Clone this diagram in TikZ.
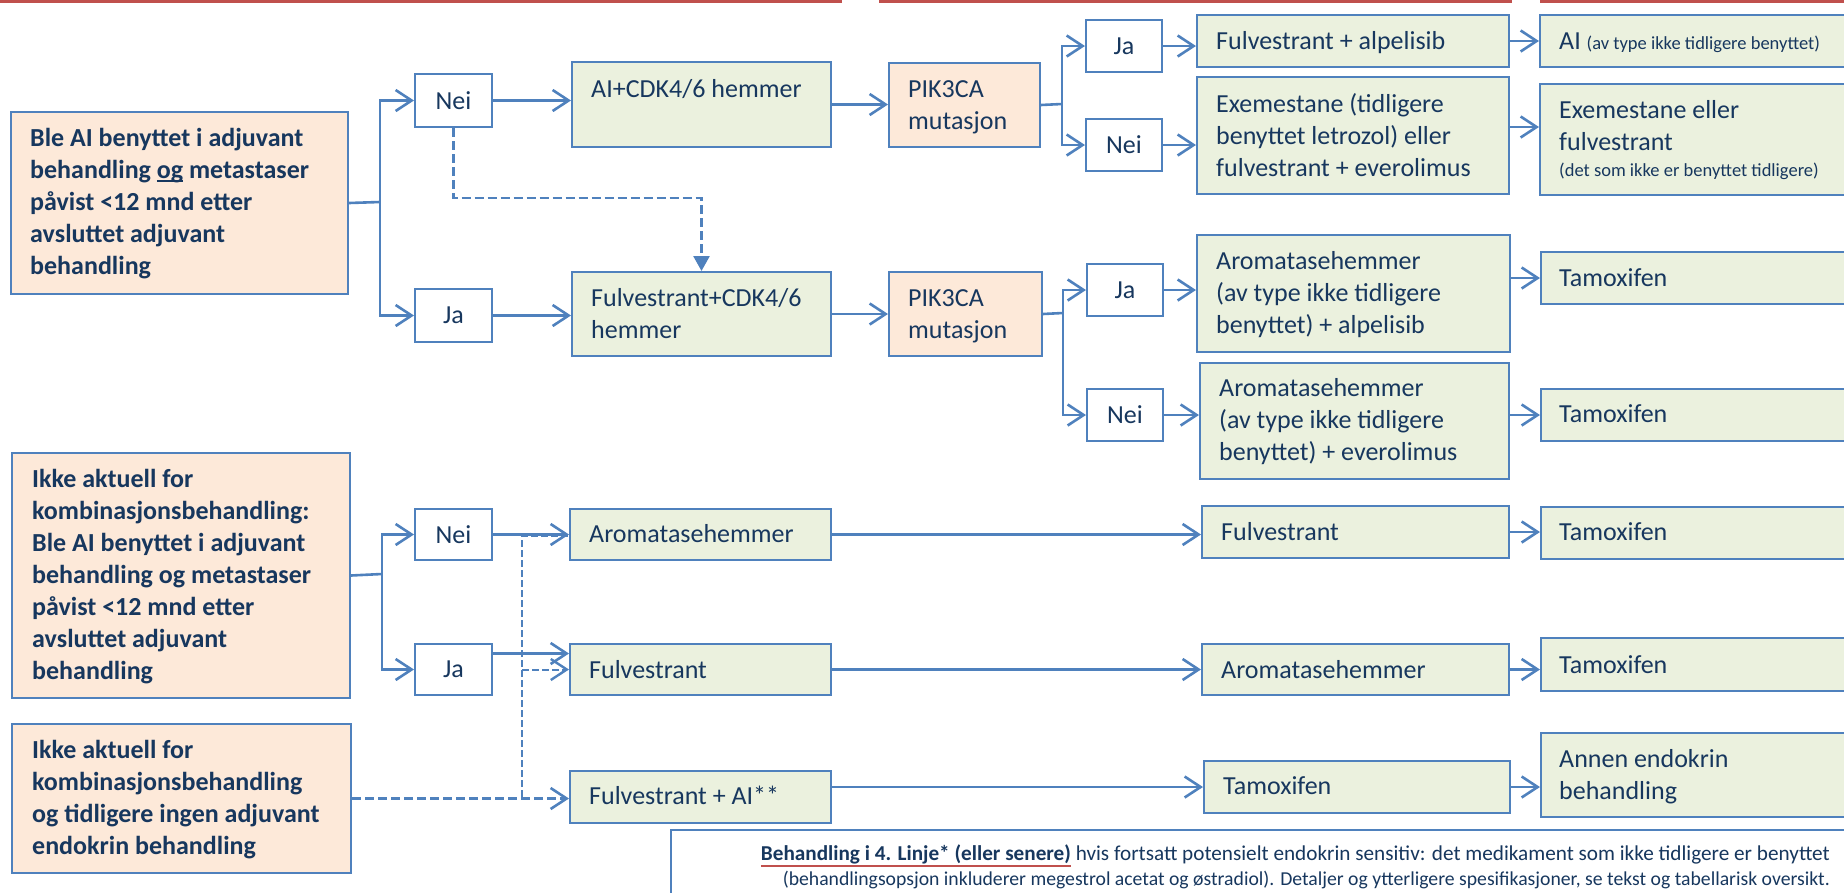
\documentclass[tikz,border=0pt]{standalone}
\usepackage{fontspec}
\setmainfont{Carlito}
\usetikzlibrary{arrows.meta,calc}
\definecolor{bord}{HTML}{4F81BD}
\definecolor{gfill}{HTML}{EBF1DE}
\definecolor{pfill}{HTML}{FDE9D9}
\definecolor{txtc}{HTML}{17375E}
\definecolor{redl}{HTML}{C0504D}
\newcommand{\redul}[1]{\setbox0\hbox{#1}\rlap{\textcolor{redl}{\rule[-7pt]{\wd0}{2.5pt}}}\box0\relax}
\newcommand{\ogul}[1]{\setbox0\hbox{#1}\rlap{\rule[-4pt]{\wd0}{2pt}}\box0\relax}
\newcommand{\mkbox}[6]{\node[#1, minimum width={(#5-#3)*1pt}, minimum height={(#6-#4)*1pt}] (#2) at (#3,#4) {};}
\newcommand{\mktxt}[5]{\node[#1] (#2) at (#3,#4) {\parbox[t]{600pt}{\raggedright #5}};}
\newcommand{\mkdec}[6]{\node[wbox, minimum width={(#4-#2)*1pt}, minimum height={(#5-#3)*1pt}] (#1) at (#2,#3) {#6};}
\tikzset{
  box/.style={draw=bord, line width=2pt, inner sep=0pt, anchor=north west},
  gbox/.style={box, fill=gfill},
  pbox/.style={box, fill=pfill},
  wbox/.style={box, fill=white, text=txtc, font=\fontsize{26}{32}\selectfont},
  txt/.style={anchor=base west, inner sep=0pt, text=txtc, font=\fontsize{26}{32}\selectfont},
  btxt/.style={txt, font=\fontsize{26}{32}\selectfont\bfseries},
  notetxt/.style={anchor=base east, inner sep=0pt, text=txtc, font=\fontsize{19.7}{25}\selectfont},
  conn/.style={draw=bord, line width=2.6pt},
  arr/.style={conn, -{Straight Barb[length=16pt,width=21pt]}},
  dconn/.style={conn, dash pattern=on 9pt off 4pt},
  darr/.style={arr, dash pattern=on 9pt off 4pt},
  dthin/.style={conn, line width=2pt, dash pattern=on 7pt off 3pt},
  dthinarr/.style={dthin, -{Straight Barb[length=16pt,width=21pt,line width=2.4pt]}},
  tri/.style={dconn, -{Triangle[length=15pt,width=16pt]}}
}
\begin{document}
\begin{tikzpicture}[x=1pt,y=-1pt]
\path[use as bounding box] (0,0) rectangle (1844,892);
\clip (0,0) rectangle (1844,892);
% red header lines
\fill[redl] (0,0) rectangle (842,3);
\fill[redl] (879,0) rectangle (1512,3);
\fill[redl] (1540,0) rectangle (1844,3);
% boxes
\mkbox{pbox}{L1}{10}{111}{347}{293}
\mkbox{pbox}{L2}{11}{452}{349}{697}
\mkbox{pbox}{L3}{11}{723}{350}{872}
\mkbox{gbox}{AICDK}{571}{61}{830}{146}
\mkbox{gbox}{FCDK}{571}{271}{830}{355}
\mkbox{gbox}{AR2}{569}{508}{830}{559}
\mkbox{gbox}{FU2}{569}{643}{830}{694}
\mkbox{gbox}{FAI2}{569}{770}{830}{822}
\mkbox{pbox}{PIK1}{888}{62}{1039}{146}
\mkbox{pbox}{PIK2}{888}{271}{1041}{355}
\mkbox{gbox}{FA}{1196}{14}{1508}{66}
\mkbox{gbox}{EX}{1196}{76}{1508}{193}
\mkbox{gbox}{ARA}{1196}{234}{1509}{351}
\mkbox{gbox}{ARE}{1199}{362}{1508}{478}
\mkbox{gbox}{F4}{1201}{505}{1508}{557}
\mkbox{gbox}{A4}{1201}{643}{1508}{694}
\mkbox{gbox}{T4}{1203}{760}{1509}{812}
\mkbox{gbox}{AI5}{1539}{14}{1870}{66}
\mkbox{gbox}{EE5}{1539}{83}{1870}{194}
\mkbox{gbox}{T5a}{1540}{251}{1870}{303}
\mkbox{gbox}{T5b}{1540}{388}{1870}{440}
\mkbox{gbox}{T5c}{1540}{506}{1870}{558}
\mkbox{gbox}{T5d}{1540}{637}{1870}{690}
\mkbox{gbox}{AN5}{1540}{732}{1870}{816}
\node[draw=bord, line width=1.8pt, fill=white, inner sep=0pt, anchor=north west, minimum width=1250pt, minimum height=100pt] (note) at (670,829) {};
% decision boxes
\mkdec{N1}{414}{73}{491}{126}{Nei}
\mkdec{J1}{414}{288}{491}{341}{Ja}
\mkdec{N3}{414}{508}{491}{559}{Nei}
\mkdec{J3}{414}{643}{491}{694}{Ja}
\mkdec{Pj1}{1085}{19}{1161}{71}{Ja}
\mkdec{Pn1}{1085}{118}{1161}{170}{Nei}
\mkdec{Pj2}{1086}{263}{1162}{315}{Ja}
\mkdec{Pn2}{1086}{388}{1162}{440}{Nei}
% texts
\mktxt{btxt}{tL1}{30}{146}{Ble AI benyttet i adjuvant\\behandling \ogul{og} metastaser\\påvist <12 mnd etter\\avsluttet adjuvant\\behandling}
\mktxt{btxt}{tL2}{32}{487}{Ikke aktuell for\\kombinasjonsbehandling:\\Ble AI benyttet i adjuvant\\behandling og metastaser\\påvist <12 mnd etter\\avsluttet adjuvant\\behandling}
\mktxt{btxt}{tL3}{32}{758}{Ikke aktuell for\\kombinasjonsbehandling\\og tidligere ingen adjuvant\\endokrin behandling}
\mktxt{txt}{tAICDK}{591}{97}{AI+CDK4/6 hemmer}
\mktxt{txt}{tFCDK}{591}{306}{Fulvestrant+CDK4/6\\hemmer}
\mktxt{txt}{tPIK1}{908}{97}{PIK3CA\\mutasjon}
\mktxt{txt}{tPIK2}{908}{306}{PIK3CA\\mutasjon}
\mktxt{txt}{tAR2}{589}{542}{Aromatasehemmer}
\mktxt{txt}{tFU2}{589}{678}{Fulvestrant}
\mktxt{txt}{tFAI2}{589}{804}{Fulvestrant + AI**}
\mktxt{txt}{tFA}{1216}{49}{Fulvestrant + alpelisib}
\mktxt{txt}{tEX}{1216}{112}{Exemestane (tidligere\\benyttet letrozol) eller\\fulvestrant + everolimus}
\mktxt{txt}{tARA}{1216}{269}{Aromatasehemmer\\(av type ikke tidligere\\benyttet) + alpelisib}
\mktxt{txt}{tARE}{1219}{396}{Aromatasehemmer\\(av type ikke tidligere\\benyttet) + everolimus}
\mktxt{txt}{tF4}{1221}{540}{Fulvestrant}
\mktxt{txt}{tA4}{1221}{678}{Aromatasehemmer}
\mktxt{txt}{tT4}{1223}{794}{Tamoxifen}
\mktxt{txt}{tAI5}{1559}{49}{AI {\fontsize{18.5}{22}\selectfont(av type ikke tidligere benyttet)}}
\mktxt{txt}{tEE5}{1559}{118}{Exemestane eller\\fulvestrant\par{\fontsize{18.5}{26}\selectfont(det som ikke er benyttet tidligere)\par}}
\mktxt{txt}{tT5a}{1559}{286}{Tamoxifen}
\mktxt{txt}{tT5b}{1559}{422}{Tamoxifen}
\mktxt{txt}{tT5c}{1559}{540}{Tamoxifen}
\mktxt{txt}{tT5d}{1559}{673}{Tamoxifen}
\mktxt{txt}{tAN5}{1559}{767}{Annen endokrin\\behandling}
\node[notetxt, font=\fontsize{21.2}{25}\selectfont] (n1) at (1830,860) {\redul{\textbf{Behandling i 4. Linje* (eller senere)}} hvis fortsatt potensielt endokrin sensitiv: det medikament som ikke tidligere er benyttet};
\node[notetxt] (n2) at (1830,885) {(behandlingsopsjon inkluderer megestrol acetat og østradiol). Detaljer og ytterligere spesifikasjoner, se tekst og tabellarisk oversikt.};
% connectors top section
\coordinate (b1) at (380,202);
\draw[conn] (L1.east) -- (b1);
\draw[arr] (b1) |- (N1.west);
\draw[arr] (b1) |- (J1.west);
\draw[arr] (N1.east) -- (N1.east -| AICDK.west);
\draw[arr] (J1.east) -- (J1.east -| FCDK.west);
\coordinate (dk) at (453,198);
\draw[tri] (N1.south) -- (N1.south |- dk) -| (FCDK.north);
\draw[arr] (AICDK.east) -- (AICDK.east -| PIK1.west);
\draw[arr] (FCDK.east) -- (FCDK.east -| PIK2.west);
\coordinate (b2) at (1062,104);
\draw[conn] (PIK1.east) -- (b2);
\draw[arr] (b2) |- (Pj1.west);
\draw[arr] (b2) |- (Pn1.west);
\coordinate (b3) at (1063,313);
\draw[conn] (PIK2.east) -- (b3);
\draw[arr] (b3) |- (Pj2.west);
\draw[arr] (b3) |- (Pn2.west);
\draw[arr] (Pj1.east) -- (Pj1.east -| FA.west);
\draw[arr] (Pn1.east) -- (Pn1.east -| EX.west);
\draw[arr] (Pj2.east) -- (Pj2.east -| ARA.west);
\draw[arr] (Pn2.east) -- (Pn2.east -| ARE.west);
\draw[arr] (FA.east) -- (FA.east -| AI5.west);
\draw[arr] ([yshift=8.5pt]EX.east) -- ([yshift=8.5pt]EX.east -| EE5.west);
\draw[arr] (T5a.west -| ARA.east) -- (T5a.west);
\draw[arr] (T5b.west -| ARE.east) -- (T5b.west);
% connectors bottom section
\coordinate (b4) at (382,574);
\draw[conn] (L2.east) -- (b4);
\draw[arr] (b4) |- (N3.west);
\draw[arr] (b4) |- (J3.west);
\draw[arr] (N3.east) -- (N3.east -| AR2.west);
\draw[arr] ([yshift=16pt]J3.east) -- ([yshift=16pt]J3.east -| FU2.west);
\coordinate (dv) at (522,797);
\coordinate (dtop) at (522,536);
\draw[darr] (L3.east) -- (L3.east -| FAI2.west);
\draw[dthin] (dv) -- (dtop) -- (dtop -| AR2.west);
\draw[dthinarr] (dv |- J3.east) -- (J3.east -| FU2.west);
\draw[arr] (AR2.east) -- (AR2.east -| F4.west);
\draw[arr] (FU2.east) -- (FU2.east -| A4.west);
\draw[arr] (T4.west -| FAI2.east) -- (T4.west);
\draw[arr] (F4.east) -- (F4.east -| T5c.west);
\draw[arr] (A4.east) -- (A4.east -| T5d.west);
\draw[arr] (T4.east) -- (T4.east -| AN5.west);
\end{tikzpicture}
\end{document}
